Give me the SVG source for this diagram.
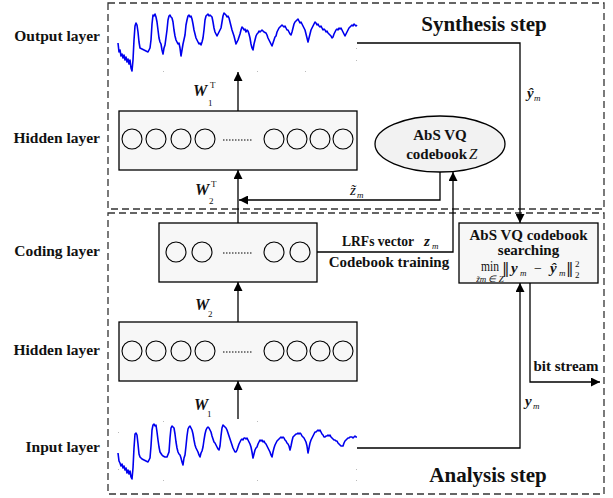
<svg xmlns="http://www.w3.org/2000/svg" width="613" height="498" viewBox="0 0 613 498">
<defs>
<marker id="ah" viewBox="0 0 10 10" refX="10" refY="5" markerWidth="9" markerHeight="9" markerUnits="userSpaceOnUse" orient="auto">
<path d="M0,0 L10,5 L0,10 Z" fill="#000"/>
</marker>
<style>
.lbl{font-family:"Liberation Serif","Times New Roman",serif;font-weight:bold;font-size:15.5px;fill:#111}
.step{font-family:"Liberation Serif","Times New Roman",serif;font-weight:bold;font-size:21px;fill:#111}
.bt{font-family:"Liberation Serif","Times New Roman",serif;font-weight:bold;font-size:15px;fill:#111}
.w{font-family:"Liberation Serif","Times New Roman",serif;font-weight:bold;font-style:italic;font-size:16px;fill:#111}
.sub{font-family:"Liberation Serif","Times New Roman",serif;font-size:9px;fill:#111}
.mi{font-family:"Liberation Serif","Times New Roman",serif;font-style:italic;font-size:15px;fill:#111}
.mr{font-family:"Liberation Serif","Times New Roman",serif;font-size:14px;fill:#111}
.nrm{font-family:"DejaVu Serif","Liberation Serif",serif;font-size:15px;fill:#111}
.dash{fill:none;stroke:#333;stroke-width:1.3;stroke-dasharray:7,4}
.box{fill:#f7f7f7;stroke:#000;stroke-width:1.3}
.n{fill:none;stroke:#000;stroke-width:1.1}
.dots{stroke:#000;stroke-width:1;stroke-dasharray:1.5,1.5}
.wave{fill:none;stroke:#0000ee;stroke-width:1.6;stroke-linejoin:round}
.ln{fill:none;stroke:#000;stroke-width:1.3}
.tick{fill:#bbb}
</style>
</defs>

<g id="frames">
<rect x="108" y="3" width="496" height="206" class="dash"/>
<rect x="108" y="213" width="496" height="281" class="dash"/>
<text x="484" y="31" text-anchor="middle" class="step">Synthesis step</text>
<text x="488" y="482" text-anchor="middle" class="step">Analysis step</text>
</g>

<g id="layer-labels">
<text x="100" y="41" text-anchor="end" class="lbl">Output layer</text>
<text x="100" y="143" text-anchor="end" class="lbl">Hidden layer</text>
<text x="100" y="256" text-anchor="end" class="lbl">Coding layer</text>
<text x="100" y="355" text-anchor="end" class="lbl">Hidden layer</text>
<text x="100" y="452" text-anchor="end" class="lbl">Input layer</text>
</g>

<g id="output-waveform">
<rect class="tick" x="163" y="71" width="1" height="1"/><rect class="tick" x="257" y="71" width="1" height="1"/><rect class="tick" x="305" y="71" width="1" height="1"/><rect class="tick" x="356" y="48" width="1" height="1"/><rect class="tick" x="356" y="60" width="1" height="1"/>
<polyline class="wave" points="118,43 119,52 120,50 121,56 122,54 123,58 124,55 125,60 126,57 127,62 128,59 129,64 130,60 131,68 132,71 133,60 134,40 135,26 136,23 137,25 138,32 139,42 140,48 142,49 144,50 146,51 148,52 150,48 151,40 152,24 153,15 154,16 155,14 156,17 157,22 158,30 159,38 160,42 161,44 162,50 163,54 164,48 165,45 167,30 168,20 169,16 170,15 171,17 172,18 173,22 174,30 175,36 176,40 177,42 178,44 179,43 180,48 181,56 182,50 183,44 185,35 186,25 187,20 188,16 189,15 190,17 191,16 192,19 193,24 194,30 195,34 196,38 197,40 198,42 199,44 200,43 201,45 202,42 203,38 204,30 205,20 206,16 207,15 208,14 209,16 210,15 211,16 212,17 213,22 214,28 215,32 216,34 217,36 218,34 219,32 220,30 221,28 222,22 223,16 224,13 225,14 226,15 227,17 228,16 229,18 230,22 231,26 232,30 233,33 234,36 235,40 236,44 237,42 238,40 240,34 241,30 242,27 243,28 244,30 245,29 246,32 247,30 248,31 249,34 250,38 251,44 252,48 253,50 254,44 255,40 256,36 257,34 258,33 259,31 260,32 262,30 264,32 266,33 267,35 268,38 269,40 270,42 271,44 272,46 273,43 274,40 275,37 276,36 277,32 278,30 279,28 280,27 281,26 282,25 283,26 284,27 285,26 286,28 287,30 288,30 289,32 290,34 291,35 292,32 293,28 294,24 295,22 296,21 297,20 298,19 299,21 300,23 301,22 302,24 303,26 304,28 305,30 306,34 307,38 308,42 309,38 310,34 311,30 312,28 313,26 314,24 315,22 316,23 317,25 318,24 319,26 320,27 321,26 322,28 323,30 324,29 325,30 326,32 327,31 328,33 329,34 330,35 331,36 332,38 333,37 334,34 335,32 336,30 337,29 338,30 339,28 340,29 341,28 342,30 343,32 344,34 345,36 346,34 347,32 348,30 349,28 350,27 351,26 352,25 353,26 354,24 355,25 356,26 357,25"/>
</g>

<g id="input-waveform">
<rect class="tick" x="163" y="421" width="1" height="1"/><rect class="tick" x="257" y="421" width="1" height="1"/><rect class="tick" x="118" y="432" width="1" height="1"/><rect class="tick" x="118" y="469" width="1" height="1"/><rect class="tick" x="356" y="469" width="1" height="1"/><rect class="tick" x="356" y="480" width="1" height="1"/><rect class="tick" x="163" y="480" width="1" height="1"/><rect class="tick" x="257" y="480" width="1" height="1"/>
<polyline class="wave" points="118,453 119,461 120,463 121,466 122,464 123,468 124,466 125,470 126,468 127,473 128,470 129,474 130,471 131,477 132,479 133,468 134,448 135,434 136,433 137,435 138,444 139,454 140,457 142,459 144,460 146,461 148,462 150,458 151,446 152,430 153,425 154,424 155,426 156,425 157,432 158,440 159,447 160,452 162,455 163,456 165,457 167,457 169,452 170,438 171,428 172,426 173,427 174,428 175,434 176,442 177,448 178,452 179,454 180,455 181,458 182,462 183,465 184,458 185,455 186,446 187,436 188,429 189,427 190,426 191,428 192,430 193,434 194,440 195,445 196,448 197,450 198,452 199,455 200,457 201,453 202,451 203,447 204,440 205,434 206,430 207,428 208,427 209,428 210,430 211,432 212,436 213,439 214,442 215,443 216,445 217,447 218,449 219,450 220,446 221,436 222,428 223,425 224,426 225,427 226,428 227,430 228,433 229,436 230,439 231,442 232,445 233,448 234,450 235,452 236,452 237,450 238,447 239,444 240,442 241,440 242,439 243,440 244,438 245,438 246,439 247,438 248,440 249,442 250,444 251,447 252,452 253,458 254,454 255,450 256,448 257,447 258,444 259,442 260,440 261,441 262,440 263,442 264,441 265,443 266,444 267,446 268,448 269,450 270,452 271,455 272,457 273,452 274,448 275,445 276,443 277,441 278,440 279,439 280,438 281,437 282,438 283,437 284,438 285,440 286,441 287,443 288,444 289,446 290,450 291,446 292,441 293,437 294,436 295,435 296,434 297,434 298,433 299,434 300,433 301,434 302,436 303,437 304,438 305,440 306,442 307,446 308,453 309,448 310,443 311,440 312,438 313,436 314,434 315,432 316,432 317,431 318,430 319,431 320,430 321,432 322,434 323,435 324,437 325,437 326,436 327,436 328,435 329,436 330,435 331,437 332,438 333,439 334,440 335,440 336,441 337,441 338,443 339,444 340,445 341,446 342,446 343,446 344,443 345,441 346,440 347,439 348,438 349,438 350,437 351,437 352,437 353,438 354,437 355,436 356,437 357,437"/>
</g>

<g id="connectors">
<line class="ln" x1="238" y1="111" x2="238" y2="72" marker-end="url(#ah)"/>
<line class="ln" x1="238" y1="223" x2="238" y2="170" marker-end="url(#ah)"/>
<line class="ln" x1="238" y1="322" x2="238" y2="282" marker-end="url(#ah)"/>
<line class="ln" x1="238" y1="419" x2="238" y2="381" marker-end="url(#ah)"/>
<polyline class="ln" points="440,172 440,200 239,200" marker-end="url(#ah)"/>
<polyline class="ln" points="317,252 453,252 453,172" marker-end="url(#ah)"/>
<polyline class="ln" points="357,43 520,43 520,223" marker-end="url(#ah)"/>
<polyline class="ln" points="357,448 520,448 520,283" marker-end="url(#ah)"/>
<polyline class="ln" points="530,283 530,382 600,382" marker-end="url(#ah)"/>
</g>

<g id="connector-labels">
<text x="193" y="96" class="w">W</text><text x="208" y="106" class="sub" font-size="10">1</text><text x="210" y="88" class="sub" font-size="10">T</text>
<text x="195" y="195" class="w">W</text><text x="209" y="204" class="sub" font-size="10">2</text><text x="211" y="187" class="sub" font-size="10">T</text>
<text x="195" y="310" class="w">W</text><text x="208" y="317" class="sub" font-size="10">2</text>
<text x="194" y="410" class="w">W</text><text x="207" y="417" class="sub" font-size="10">1</text>
<text x="350" y="195" class="mi">z&#771;</text><text x="357" y="198" class="sub" font-style="italic">m</text>
<text x="527" y="98" class="mi" font-weight="bold">ŷ</text><text x="534" y="101" class="sub" font-style="italic">m</text>
<text x="525" y="406" class="mi" font-weight="bold">y</text><text x="533" y="409" class="sub" font-style="italic">m</text>
<text x="342" y="246" class="bt" font-size="13" textLength="72" lengthAdjust="spacingAndGlyphs">LRFs vector</text><text x="424" y="246" class="mi" font-weight="bold">z</text><text x="432" y="249" class="sub" font-style="italic">m</text>
<text x="389" y="267" text-anchor="middle" class="bt" font-size="13">Codebook training</text>
<text x="566" y="371" text-anchor="middle" class="bt" font-size="14">bit stream</text>
</g>

<g id="hidden-top">
<rect x="119" y="111" width="238" height="59" class="box"/>
<circle class="n" cx="132" cy="139" r="10"/><circle class="n" cx="156" cy="139" r="10"/><circle class="n" cx="181" cy="139" r="10"/><circle class="n" cx="205" cy="139" r="10"/>
<line class="dots" x1="223" y1="140" x2="252" y2="140"/>
<circle class="n" cx="274" cy="139" r="10"/><circle class="n" cx="297" cy="139" r="10"/><circle class="n" cx="320" cy="139" r="10"/><circle class="n" cx="343" cy="139" r="10"/>
</g>

<g id="coding">
<rect x="159" y="223" width="158" height="59" class="box"/>
<circle class="n" cx="176" cy="252" r="10"/><circle class="n" cx="202" cy="252" r="10"/>
<line class="dots" x1="223" y1="253" x2="252" y2="253"/>
<circle class="n" cx="274" cy="252" r="10"/><circle class="n" cx="300" cy="252" r="10"/>
</g>

<g id="hidden-bottom">
<rect x="119" y="322" width="238" height="59" class="box"/>
<circle class="n" cx="132" cy="351" r="10"/><circle class="n" cx="156" cy="351" r="10"/><circle class="n" cx="181" cy="351" r="10"/><circle class="n" cx="205" cy="351" r="10"/>
<line class="dots" x1="223" y1="352" x2="252" y2="352"/>
<circle class="n" cx="274" cy="351" r="10"/><circle class="n" cx="297" cy="351" r="10"/><circle class="n" cx="320" cy="351" r="10"/><circle class="n" cx="343" cy="351" r="10"/>
</g>

<g id="codebook">
<ellipse cx="440" cy="144" rx="65" ry="28" fill="#f2f2f2" stroke="#000" stroke-width="1.3"/>
<text x="440" y="140" text-anchor="middle" class="bt">AbS VQ</text>
<text x="467" y="159" text-anchor="end" class="bt">codebook</text>
<text x="469" y="159" class="mi" font-size="13">Z</text>
</g>

<g id="search">
<rect x="459" y="223" width="139" height="60" class="box"/>
<text x="528.5" y="240" text-anchor="middle" class="bt" font-size="17">AbS VQ codebook</text>
<text x="528.5" y="255" text-anchor="middle" class="bt" font-size="17">searching</text>
<text x="481" y="271" class="mr" font-size="13" textLength="18" lengthAdjust="spacingAndGlyphs">min</text>
<text x="490" y="281.5" text-anchor="middle" class="sub" font-size="5.5" font-style="italic">z&#771;m ∈ Z</text>
<text x="502" y="273" class="nrm">‖</text>
<text x="511" y="273" class="mi" font-weight="bold">y</text><text x="520" y="276" class="sub" font-style="italic">m</text>
<text x="534" y="273" class="mr">−</text>
<text x="550" y="273" class="mi" font-weight="bold">ŷ</text><text x="559" y="276" class="sub" font-style="italic">m</text>
<text x="566" y="273" class="nrm">‖</text>
<text x="575" y="267" class="sub" font-size="8">2</text><text x="575" y="278" class="sub" font-size="8">2</text>
</g>
</svg>
